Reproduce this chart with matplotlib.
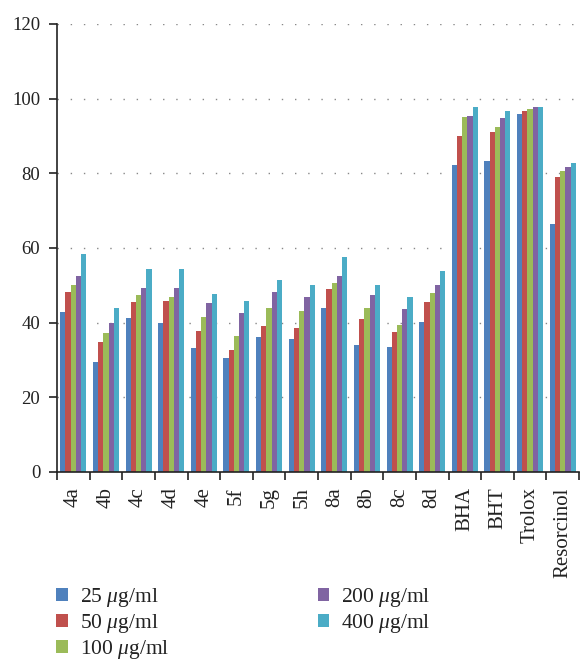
import numpy as np
import matplotlib
matplotlib.use("Agg")
import matplotlib.pyplot as plt

plt.rcParams['font.family'] = ['Liberation Serif', 'DejaVu Serif']
plt.rcParams['mathtext.fontset'] = 'custom'
plt.rcParams['mathtext.rm'] = 'Liberation Serif'
plt.rcParams['mathtext.it'] = 'Liberation Serif:italic'

compounds = ['4a', '4b', '4c', '4d', '4e', '5f', '5g', '5h', '8a', '8b', '8c', '8d',
             'BHA', 'BHT', 'Trolox', 'Resorcinol']
conc_labels = ['25 $\\mathit{\\mu}$g/ml', '50 $\\mathit{\\mu}$g/ml', '100 $\\mathit{\\mu}$g/ml',
               '200 $\\mathit{\\mu}$g/ml', '400 $\\mathit{\\mu}$g/ml']

# scavenging activity (%) per concentration
c25 = [42.8, 29.5, 41.3, 40.0, 33.3, 30.6, 36.2, 35.7, 43.8, 34.1, 33.5, 40.2, 82.1, 83.4, 95.8, 66.3]
c50 = [48.2, 34.9, 45.5, 45.9, 37.9, 32.7, 39.2, 38.7, 48.9, 41.1, 37.6, 45.6, 89.9, 91.0, 96.6, 78.9]
c100 = [50.0, 37.3, 47.3, 47.0, 41.6, 36.5, 44.0, 43.0, 50.5, 43.8, 39.5, 48.0, 95.0, 92.3, 97.1, 80.5]
c200 = [52.5, 40.0, 49.4, 49.2, 45.4, 42.7, 48.1, 47.0, 52.4, 47.3, 43.7, 50.1, 95.3, 94.7, 97.7, 81.8]
c400 = [58.4, 43.8, 54.3, 54.3, 47.8, 45.9, 51.3, 50.0, 57.5, 50.0, 46.9, 53.9, 97.9, 96.6, 97.7, 82.9]

colors = ['#4F81BD', '#C0504D', '#9BBB59', '#8064A2', '#4BACC6']
series = [c25, c50, c100, c200, c400]

fig = plt.figure(figsize=(5.81, 6.63), dpi=100)
ax = fig.add_axes([57 / 581, 1 - 472 / 663, 522 / 581, 448 / 663])

x = np.arange(len(compounds))
w = 0.16
for k, (vals, col, lab) in enumerate(zip(series, colors, conc_labels)):
    ax.bar(x + (k - 2) * w, vals, width=w, color=col, label=lab, zorder=2)

ax.set_xlim(-0.5, len(compounds) - 0.5)
ax.set_ylim(0, 120)
ax.set_yticks(np.arange(0, 121, 20))
for yv in range(20, 121, 20):
    ax.axhline(yv, color='#888888', lw=1.0, ls=(0, (1, 8.5)), zorder=1)

# boundary ticks, labels centred under each group
ax.set_xticks(np.arange(-0.5, len(compounds)), labels=[])
ax.set_xticks(x, labels=compounds, minor=True)
ax.tick_params(axis='x', which='major', direction='out', length=6, width=1.2, color='#222222')
ax.tick_params(axis='x', which='minor', length=0, pad=11, labelsize=15,
               labelrotation=90, labelcolor='#222222')
ax.tick_params(axis='y', direction='out', length=6, width=1.2, color='#222222',
               pad=6, labelsize=13.5, labelcolor='#222222')

for s in ['top', 'right']:
    ax.spines[s].set_visible(False)
for s in ['left', 'bottom']:
    ax.spines[s].set_color('#222222')
    ax.spines[s].set_linewidth(1.2)

fig.legend(loc='upper left', bbox_to_anchor=(56 / 581, 1 - 586 / 663), ncol=2,
           frameon=False, fontsize=15.5, handlelength=0.55, handleheight=0.55,
           handletextpad=0.55, columnspacing=6.9, labelspacing=0.15, borderpad=0,
           borderaxespad=0, labelcolor='#222222')

fig.savefig('out.png', dpi=100)
